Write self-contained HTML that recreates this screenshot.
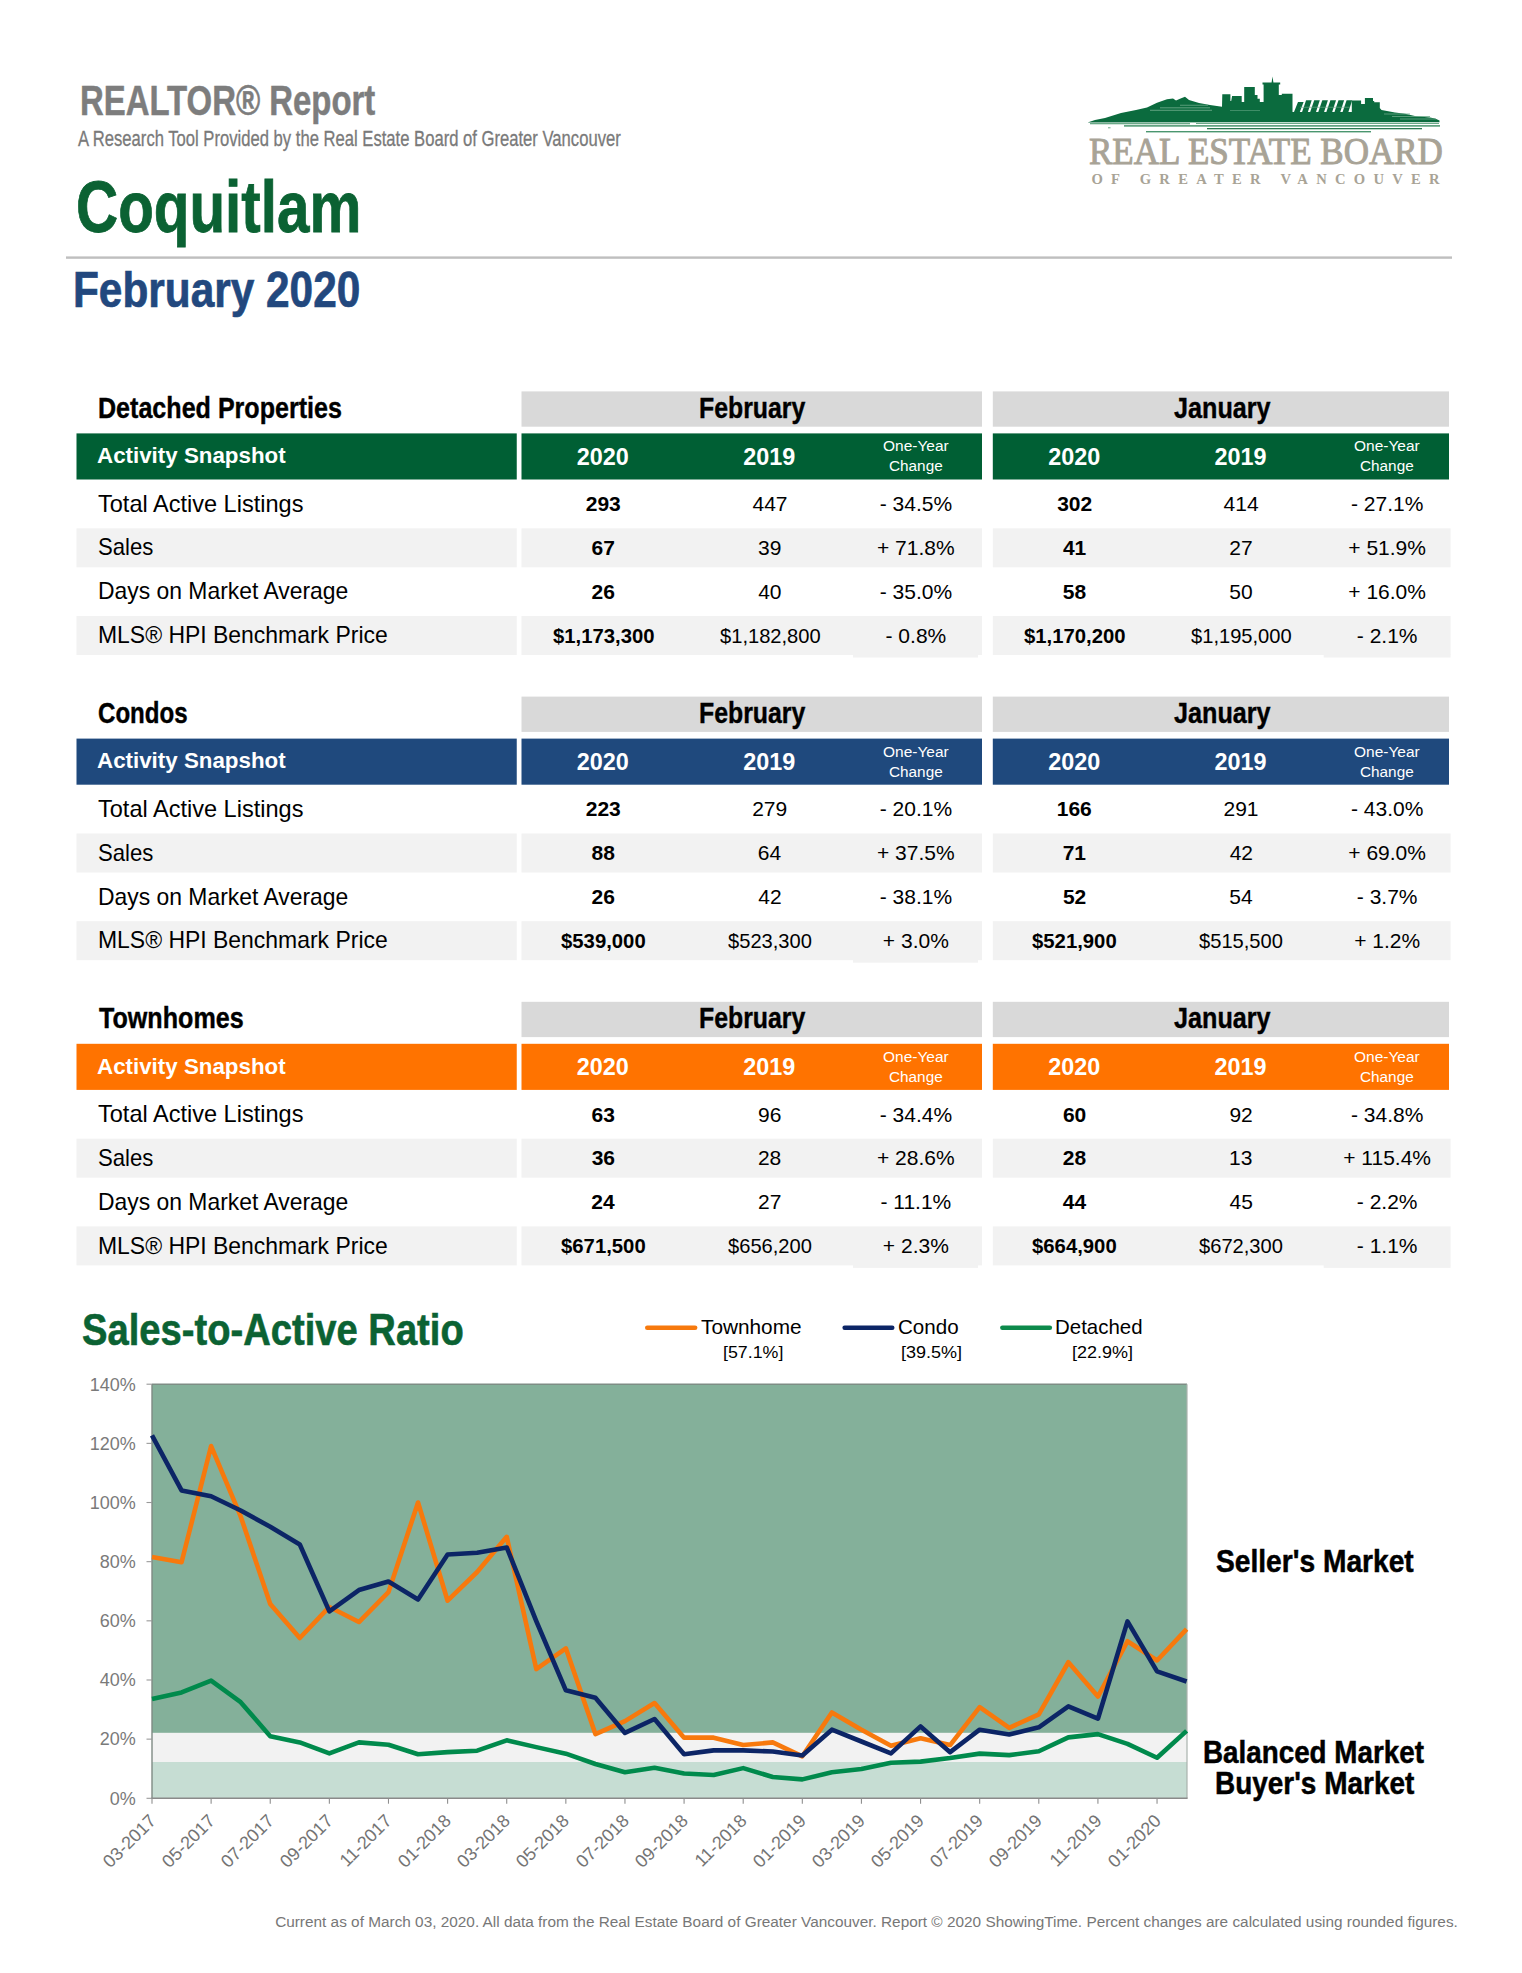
<!DOCTYPE html>
<html><head><meta charset="utf-8"><title>REALTOR Report - Coquitlam February 2020</title>
<style>
html,body{margin:0;padding:0;background:#fff;}
#p{position:relative;width:1522px;height:1973px;overflow:hidden;background:#fff;font-family:"Liberation Sans",Arial,Helvetica,sans-serif;color:#000;}
.t{position:absolute;white-space:nowrap;transform-origin:0 0;}
svg{position:absolute;left:0;top:0;}
</style></head><body><div id="p">
<svg width="1522" height="1973" viewBox="0 0 1522 1973">
<rect x="66.00" y="256.40" width="1386.00" height="2.40" fill="#bfbfbf"/>
<rect x="521.50" y="391.40" width="460.50" height="35.30" fill="#d9d9d9"/>
<rect x="521.50" y="433.40" width="460.50" height="46.10" fill="#005f34"/>
<rect x="992.80" y="391.40" width="456.20" height="35.30" fill="#d9d9d9"/>
<rect x="992.80" y="433.40" width="456.20" height="46.10" fill="#005f34"/>
<rect x="76.50" y="433.40" width="440.25" height="46.10" fill="#005f34"/>
<rect x="76.50" y="528.30" width="440.25" height="39.00" fill="#f2f2f2"/>
<rect x="521.50" y="528.30" width="460.50" height="39.00" fill="#f2f2f2"/>
<rect x="992.80" y="528.30" width="457.80" height="39.00" fill="#f2f2f2"/>
<rect x="76.50" y="616.00" width="440.25" height="39.00" fill="#f2f2f2"/>
<rect x="521.50" y="616.00" width="460.50" height="39.00" fill="#f2f2f2"/>
<rect x="992.80" y="616.00" width="457.80" height="39.00" fill="#f2f2f2"/>
<rect x="853.00" y="654.50" width="125.00" height="3.00" fill="#f2f2f2"/>
<rect x="1323.70" y="654.50" width="126.90" height="3.00" fill="#f2f2f2"/>
<rect x="521.50" y="696.60" width="460.50" height="35.30" fill="#d9d9d9"/>
<rect x="521.50" y="738.60" width="460.50" height="46.10" fill="#1f497d"/>
<rect x="992.80" y="696.60" width="456.20" height="35.30" fill="#d9d9d9"/>
<rect x="992.80" y="738.60" width="456.20" height="46.10" fill="#1f497d"/>
<rect x="76.50" y="738.60" width="440.25" height="46.10" fill="#1f497d"/>
<rect x="76.50" y="833.50" width="440.25" height="39.00" fill="#f2f2f2"/>
<rect x="521.50" y="833.50" width="460.50" height="39.00" fill="#f2f2f2"/>
<rect x="992.80" y="833.50" width="457.80" height="39.00" fill="#f2f2f2"/>
<rect x="76.50" y="921.20" width="440.25" height="39.00" fill="#f2f2f2"/>
<rect x="521.50" y="921.20" width="460.50" height="39.00" fill="#f2f2f2"/>
<rect x="992.80" y="921.20" width="457.80" height="39.00" fill="#f2f2f2"/>
<rect x="853.00" y="959.70" width="125.00" height="3.00" fill="#f2f2f2"/>
<rect x="521.50" y="1001.80" width="460.50" height="35.30" fill="#d9d9d9"/>
<rect x="521.50" y="1043.80" width="460.50" height="46.10" fill="#ff7300"/>
<rect x="992.80" y="1001.80" width="456.20" height="35.30" fill="#d9d9d9"/>
<rect x="992.80" y="1043.80" width="456.20" height="46.10" fill="#ff7300"/>
<rect x="76.50" y="1043.80" width="440.25" height="46.10" fill="#ff7300"/>
<rect x="76.50" y="1138.70" width="440.25" height="39.00" fill="#f2f2f2"/>
<rect x="521.50" y="1138.70" width="460.50" height="39.00" fill="#f2f2f2"/>
<rect x="992.80" y="1138.70" width="457.80" height="39.00" fill="#f2f2f2"/>
<rect x="76.50" y="1226.40" width="440.25" height="39.00" fill="#f2f2f2"/>
<rect x="521.50" y="1226.40" width="460.50" height="39.00" fill="#f2f2f2"/>
<rect x="992.80" y="1226.40" width="457.80" height="39.00" fill="#f2f2f2"/>
<rect x="853.00" y="1264.90" width="125.00" height="3.00" fill="#f2f2f2"/>
<rect x="1323.70" y="1264.90" width="126.90" height="3.00" fill="#f2f2f2"/>
<line x1="647.25" y1="1327.7" x2="695.15" y2="1327.7" stroke="#f7790d" stroke-width="4.5" stroke-linecap="round"/>
<line x1="844.65" y1="1327.7" x2="892.25" y2="1327.7" stroke="#0c2566" stroke-width="4.5" stroke-linecap="round"/>
<line x1="1002.35" y1="1327.7" x2="1049.85" y2="1327.7" stroke="#0d8a4b" stroke-width="4.5" stroke-linecap="round"/>
<rect x="152.00" y="1384.20" width="1035.00" height="348.70" fill="#84b09a"/>
<rect x="152.00" y="1732.90" width="1035.00" height="29.10" fill="#f2f2f2"/>
<rect x="152.00" y="1762.00" width="1035.00" height="36.30" fill="#c6ddd3"/>
<line x1="152.00" y1="1384.20" x2="1187.00" y2="1384.20" stroke="#7e8d85" stroke-width="1.4"/>
<line x1="152.00" y1="1384.20" x2="152.00" y2="1798.30" stroke="#7f8a84" stroke-width="1.4"/>
<line x1="1187.00" y1="1384.20" x2="1187.00" y2="1798.30" stroke="#a9b3ae" stroke-width="1.2"/>
<line x1="151.30" y1="1798.30" x2="1187.60" y2="1798.30" stroke="#8a8a8a" stroke-width="1.4"/>
<line x1="146.5" y1="1798.30" x2="152.0" y2="1798.30" stroke="#999" stroke-width="1.1"/>
<line x1="146.5" y1="1739.14" x2="152.0" y2="1739.14" stroke="#999" stroke-width="1.1"/>
<line x1="146.5" y1="1679.99" x2="152.0" y2="1679.99" stroke="#999" stroke-width="1.1"/>
<line x1="146.5" y1="1620.83" x2="152.0" y2="1620.83" stroke="#999" stroke-width="1.1"/>
<line x1="146.5" y1="1561.67" x2="152.0" y2="1561.67" stroke="#999" stroke-width="1.1"/>
<line x1="146.5" y1="1502.51" x2="152.0" y2="1502.51" stroke="#999" stroke-width="1.1"/>
<line x1="146.5" y1="1443.36" x2="152.0" y2="1443.36" stroke="#999" stroke-width="1.1"/>
<line x1="146.5" y1="1384.20" x2="152.0" y2="1384.20" stroke="#999" stroke-width="1.1"/>
<line x1="152.00" y1="1798.3" x2="152.00" y2="1803.7" stroke="#8f8f8f" stroke-width="1.1"/>
<line x1="211.12" y1="1798.3" x2="211.12" y2="1803.7" stroke="#8f8f8f" stroke-width="1.1"/>
<line x1="270.24" y1="1798.3" x2="270.24" y2="1803.7" stroke="#8f8f8f" stroke-width="1.1"/>
<line x1="329.36" y1="1798.3" x2="329.36" y2="1803.7" stroke="#8f8f8f" stroke-width="1.1"/>
<line x1="388.48" y1="1798.3" x2="388.48" y2="1803.7" stroke="#8f8f8f" stroke-width="1.1"/>
<line x1="447.60" y1="1798.3" x2="447.60" y2="1803.7" stroke="#8f8f8f" stroke-width="1.1"/>
<line x1="506.72" y1="1798.3" x2="506.72" y2="1803.7" stroke="#8f8f8f" stroke-width="1.1"/>
<line x1="565.84" y1="1798.3" x2="565.84" y2="1803.7" stroke="#8f8f8f" stroke-width="1.1"/>
<line x1="624.96" y1="1798.3" x2="624.96" y2="1803.7" stroke="#8f8f8f" stroke-width="1.1"/>
<line x1="684.08" y1="1798.3" x2="684.08" y2="1803.7" stroke="#8f8f8f" stroke-width="1.1"/>
<line x1="743.20" y1="1798.3" x2="743.20" y2="1803.7" stroke="#8f8f8f" stroke-width="1.1"/>
<line x1="802.32" y1="1798.3" x2="802.32" y2="1803.7" stroke="#8f8f8f" stroke-width="1.1"/>
<line x1="861.44" y1="1798.3" x2="861.44" y2="1803.7" stroke="#8f8f8f" stroke-width="1.1"/>
<line x1="920.56" y1="1798.3" x2="920.56" y2="1803.7" stroke="#8f8f8f" stroke-width="1.1"/>
<line x1="979.68" y1="1798.3" x2="979.68" y2="1803.7" stroke="#8f8f8f" stroke-width="1.1"/>
<line x1="1038.80" y1="1798.3" x2="1038.80" y2="1803.7" stroke="#8f8f8f" stroke-width="1.1"/>
<line x1="1097.92" y1="1798.3" x2="1097.92" y2="1803.7" stroke="#8f8f8f" stroke-width="1.1"/>
<line x1="1157.04" y1="1798.3" x2="1157.04" y2="1803.7" stroke="#8f8f8f" stroke-width="1.1"/>
<polyline points="152.00,1698.92 181.56,1692.41 211.12,1680.58 240.68,1702.17 270.24,1736.18 299.80,1742.40 329.36,1753.34 358.92,1742.40 388.48,1744.76 418.04,1754.23 447.60,1752.16 477.16,1750.68 506.72,1740.33 536.28,1747.13 565.84,1753.64 595.40,1763.99 624.96,1772.27 654.52,1767.83 684.08,1773.45 713.64,1774.93 743.20,1768.13 772.76,1777.00 802.32,1779.37 831.88,1772.27 861.44,1769.02 891.00,1762.81 920.56,1761.62 950.12,1758.07 979.68,1753.64 1009.24,1755.12 1038.80,1751.27 1068.36,1737.37 1097.92,1734.11 1127.48,1743.88 1157.04,1757.78 1186.60,1730.86" fill="none" stroke="#008a4c" stroke-width="4.6" stroke-linejoin="round"/>
<polyline points="152.00,1556.94 181.56,1562.26 211.12,1446.02 240.68,1516.42 270.24,1603.97 299.80,1637.98 329.36,1606.93 358.92,1622.01 388.48,1592.14 418.04,1502.51 447.60,1600.72 477.16,1572.02 506.72,1536.83 536.28,1669.04 565.84,1648.34 595.40,1734.11 624.96,1721.10 654.52,1703.06 684.08,1737.66 713.64,1737.66 743.20,1745.06 772.76,1742.40 802.32,1756.30 831.88,1712.52 861.44,1729.68 891.00,1745.65 920.56,1738.26 950.12,1745.06 979.68,1707.20 1009.24,1727.90 1038.80,1714.30 1068.36,1662.24 1097.92,1696.55 1127.48,1641.24 1157.04,1660.46 1186.60,1629.11" fill="none" stroke="#f7790d" stroke-width="4.6" stroke-linejoin="round"/>
<polyline points="152.00,1435.37 181.56,1490.39 211.12,1496.30 240.68,1510.50 270.24,1526.77 299.80,1544.52 329.36,1611.36 358.92,1590.07 388.48,1581.49 418.04,1599.53 447.60,1554.57 477.16,1552.80 506.72,1547.47 536.28,1621.12 565.84,1690.34 595.40,1697.73 624.96,1732.93 654.52,1719.03 684.08,1754.23 713.64,1750.38 743.20,1750.38 772.76,1751.57 802.32,1755.41 831.88,1729.68 861.44,1741.51 891.00,1753.34 920.56,1726.42 950.12,1752.16 979.68,1729.68 1009.24,1734.41 1038.80,1727.31 1068.36,1706.31 1097.92,1718.73 1127.48,1621.42 1157.04,1671.41 1186.60,1681.46" fill="none" stroke="#0c2566" stroke-width="4.6" stroke-linejoin="round"/>
<g id="logo">
<path fill="#0b6b3e" d="M1087.5,122.4 L1095,120 L1105,118.1 L1121,113.1 L1136,110 L1147,107.5 L1157,102.7 L1167,99.3 L1173,98.5 L1176,100.6 L1180,98.7 L1185,96.8 L1189,100 L1199,103.1 L1210,105 L1222,106.8 L1222.3,94.3 L1230.4,94.3 L1230.4,101 L1231.2,101 L1232.1,96 L1241.7,96 L1241.7,102 L1244.2,102 L1244.2,86.9 L1254.8,86.9 L1254.8,95 L1257.5,95 L1257.5,98.7 L1259.8,98.7 L1259.8,102 L1263.6,102 L1263.6,84.6 L1262.5,84.6 L1262.5,82.5 L1271.6,82.5 L1272.5,76.5 L1273.4,82.5 L1280.2,82.5 L1280.2,84.6 L1278.8,84.6 L1278.8,95 L1281.8,95 L1281.8,93.7 L1292.5,93.7 L1292.5,112 L1351.8,112 L1351.8,100.6 L1361.1,100.6 L1361.1,104 L1364.9,104 L1364.9,98.1 L1373,98.1 L1373,101 L1374.2,101 L1374.2,102.2 L1379.8,102.2 L1379.8,108 L1381.5,110 L1395,112.5 L1405,113.7 L1416,116.2 L1430,117.5 L1435,118.5 L1439.5,120.5 L1439.5,122.2 Z"/>
<polygon fill="#0b6b3e" points="1293.8,112.5 1299.6,112.5 1303.6,102 1298.0,102"/>
<polygon fill="#0b6b3e" points="1301.9,112.5 1307.7,112.5 1311.7,100.3 1306.1,100.3"/>
<polygon fill="#0b6b3e" points="1310.0,112.5 1315.8,112.5 1319.8,100.3 1314.2,100.3"/>
<polygon fill="#0b6b3e" points="1318.1,112.5 1323.9,112.5 1327.9,100.3 1322.3,100.3"/>
<polygon fill="#0b6b3e" points="1326.2,112.5 1332.0,112.5 1336.0,100.3 1330.4,100.3"/>
<polygon fill="#0b6b3e" points="1334.3,112.5 1340.1,112.5 1344.1,100.3 1338.5,100.3"/>
<polygon fill="#0b6b3e" points="1342.4,112.5 1348.2,112.5 1352.2,100.3 1346.6,100.3"/>
<g fill="#6aa988">
<rect x="1160" y="107.4" width="50" height="0.9"/>
<rect x="1150" y="109.8" width="62" height="0.9"/>
<rect x="1180" y="104.8" width="28" height="0.8"/>
<rect x="1230" y="110" width="30" height="0.8" opacity="0.7"/>
<rect x="1300" y="106.8" width="50" height="0.8" opacity="0.8"/>
<rect x="1384" y="113.6" width="26" height="0.8"/><rect x="1392" y="116.2" width="38" height="0.8"/><rect x="1400" y="118.6" width="36" height="0.8"/>
<rect x="1090" y="123.0" width="100" height="1.3"/>
<rect x="1196" y="123.0" width="243" height="1.0"/>
</g>
<rect x="1124" y="125.2" width="316" height="1.4" fill="#3d8d64"/>
<rect x="1207" y="128.0" width="215" height="1.3" fill="#2b7a52"/>
<rect x="1146" y="131.0" width="225" height="1.4" fill="#4a966f"/>
<rect x="1108" y="127.3" width="2.5" height="1" fill="#6aa988"/>
</g>

</svg>
<div class="t" style="left:79.96px;top:79.80px;font-size:41.60px;line-height:41.60px;font-weight:bold;color:#7d7d7d;transform:scaleX(0.7908);-webkit-text-stroke:0.5px #7d7d7d;">REALTOR® Report</div>
<div class="t" style="left:77.80px;top:128.90px;font-size:21.40px;line-height:21.40px;color:#7a7a7a;transform:scaleX(0.7772);-webkit-text-stroke:0.3px #7a7a7a;">A Research Tool Provided by the Real Estate Board of Greater Vancouver</div>
<div class="t" style="left:75.57px;top:171.00px;font-size:72.00px;line-height:72.00px;font-weight:bold;color:#0b6233;transform:scaleX(0.8107);-webkit-text-stroke:0.8px #0b6233;">Coquitlam</div>
<div class="t" style="left:73.05px;top:265.00px;font-size:50.40px;line-height:50.40px;font-weight:bold;color:#22487e;transform:scaleX(0.8406);-webkit-text-stroke:0.7px #22487e;">February 2020</div>
<div class="t" style="left:97.77px;top:393.80px;font-size:29.20px;line-height:29.20px;font-weight:bold;transform:scaleX(0.8594);-webkit-text-stroke:0.4px #000;">Detached Properties</div>
<div class="t" style="left:699.49px;top:394.00px;font-size:29.20px;line-height:29.20px;font-weight:bold;transform:scaleX(0.8509);-webkit-text-stroke:0.4px #000;">February</div>
<div class="t" style="left:1173.72px;top:394.00px;font-size:29.20px;line-height:29.20px;font-weight:bold;transform:scaleX(0.8627);-webkit-text-stroke:0.4px #000;">January</div>
<div class="t" style="left:97.44px;top:445.10px;font-size:22.60px;line-height:22.60px;font-weight:bold;color:#fff;transform:scaleX(0.9886);">Activity Snapshot</div>
<div class="t" style="left:576.83px;top:445.50px;font-size:23.40px;line-height:23.40px;font-weight:bold;color:#fff;">2020</div>
<div class="t" style="left:743.17px;top:445.50px;font-size:23.40px;line-height:23.40px;font-weight:bold;color:#fff;">2019</div>
<div class="t" style="left:882.80px;top:438.40px;font-size:15.40px;line-height:15.40px;color:#fff;transform:scaleX(1.0051);">One-Year</div>
<div class="t" style="left:888.93px;top:458.40px;font-size:15.40px;line-height:15.40px;color:#fff;transform:scaleX(0.9955);">Change</div>
<div class="t" style="left:1048.13px;top:445.50px;font-size:23.40px;line-height:23.40px;font-weight:bold;color:#fff;">2020</div>
<div class="t" style="left:1214.47px;top:445.50px;font-size:23.40px;line-height:23.40px;font-weight:bold;color:#fff;">2019</div>
<div class="t" style="left:1354.10px;top:438.40px;font-size:15.40px;line-height:15.40px;color:#fff;transform:scaleX(1.0051);">One-Year</div>
<div class="t" style="left:1360.23px;top:458.40px;font-size:15.40px;line-height:15.40px;color:#fff;transform:scaleX(0.9955);">Change</div>
<div class="t" style="left:97.73px;top:492.60px;font-size:23.20px;line-height:23.20px;transform:scaleX(1.0152);">Total Active Listings</div>
<div class="t" style="left:585.72px;top:493.20px;font-size:21.00px;line-height:21.00px;font-weight:bold;">293</div>
<div class="t" style="left:752.53px;top:493.20px;font-size:21.00px;line-height:21.00px;">447</div>
<div class="t" style="left:879.72px;top:493.20px;font-size:21.00px;line-height:21.00px;">- 34.5%</div>
<div class="t" style="left:1057.17px;top:493.20px;font-size:21.00px;line-height:21.00px;font-weight:bold;">302</div>
<div class="t" style="left:1223.62px;top:493.20px;font-size:21.00px;line-height:21.00px;">414</div>
<div class="t" style="left:1351.02px;top:493.20px;font-size:21.00px;line-height:21.00px;">- 27.1%</div>
<div class="t" style="left:97.80px;top:536.45px;font-size:23.20px;line-height:23.20px;transform:scaleX(0.9547);">Sales</div>
<div class="t" style="left:591.60px;top:537.05px;font-size:21.00px;line-height:21.00px;font-weight:bold;">67</div>
<div class="t" style="left:758.10px;top:537.05px;font-size:21.00px;line-height:21.00px;">39</div>
<div class="t" style="left:876.99px;top:537.05px;font-size:21.00px;line-height:21.00px;">+ 71.8%</div>
<div class="t" style="left:1062.95px;top:537.05px;font-size:21.00px;line-height:21.00px;font-weight:bold;">41</div>
<div class="t" style="left:1229.35px;top:537.05px;font-size:21.00px;line-height:21.00px;">27</div>
<div class="t" style="left:1348.29px;top:537.05px;font-size:21.00px;line-height:21.00px;">+ 51.9%</div>
<div class="t" style="left:97.57px;top:580.30px;font-size:23.20px;line-height:23.20px;transform:scaleX(0.9873);">Days on Market Average</div>
<div class="t" style="left:591.55px;top:580.90px;font-size:21.00px;line-height:21.00px;font-weight:bold;">26</div>
<div class="t" style="left:758.20px;top:580.90px;font-size:21.00px;line-height:21.00px;">40</div>
<div class="t" style="left:879.72px;top:580.90px;font-size:21.00px;line-height:21.00px;">- 35.0%</div>
<div class="t" style="left:1062.84px;top:580.90px;font-size:21.00px;line-height:21.00px;font-weight:bold;">58</div>
<div class="t" style="left:1229.29px;top:580.90px;font-size:21.00px;line-height:21.00px;">50</div>
<div class="t" style="left:1348.29px;top:580.90px;font-size:21.00px;line-height:21.00px;">+ 16.0%</div>
<div class="t" style="left:97.56px;top:624.15px;font-size:23.20px;line-height:23.20px;transform:scaleX(0.9893);">MLS® HPI Benchmark Price</div>
<div class="t" style="left:552.64px;top:624.75px;font-size:21.00px;line-height:21.00px;font-weight:bold;transform:scaleX(0.9670);">$1,173,300</div>
<div class="t" style="left:719.61px;top:624.75px;font-size:21.00px;line-height:21.00px;transform:scaleX(0.9580);">$1,182,800</div>
<div class="t" style="left:885.55px;top:624.75px;font-size:21.00px;line-height:21.00px;">- 0.8%</div>
<div class="t" style="left:1023.94px;top:624.75px;font-size:21.00px;line-height:21.00px;font-weight:bold;transform:scaleX(0.9670);">$1,170,200</div>
<div class="t" style="left:1190.91px;top:624.75px;font-size:21.00px;line-height:21.00px;transform:scaleX(0.9580);">$1,195,000</div>
<div class="t" style="left:1356.85px;top:624.75px;font-size:21.00px;line-height:21.00px;">- 2.1%</div>
<div class="t" style="left:97.94px;top:699.00px;font-size:29.20px;line-height:29.20px;font-weight:bold;transform:scaleX(0.8251);-webkit-text-stroke:0.4px #000;">Condos</div>
<div class="t" style="left:699.49px;top:699.20px;font-size:29.20px;line-height:29.20px;font-weight:bold;transform:scaleX(0.8509);-webkit-text-stroke:0.4px #000;">February</div>
<div class="t" style="left:1173.72px;top:699.20px;font-size:29.20px;line-height:29.20px;font-weight:bold;transform:scaleX(0.8627);-webkit-text-stroke:0.4px #000;">January</div>
<div class="t" style="left:97.44px;top:750.30px;font-size:22.60px;line-height:22.60px;font-weight:bold;color:#fff;transform:scaleX(0.9886);">Activity Snapshot</div>
<div class="t" style="left:576.83px;top:750.70px;font-size:23.40px;line-height:23.40px;font-weight:bold;color:#fff;">2020</div>
<div class="t" style="left:743.17px;top:750.70px;font-size:23.40px;line-height:23.40px;font-weight:bold;color:#fff;">2019</div>
<div class="t" style="left:882.80px;top:743.60px;font-size:15.40px;line-height:15.40px;color:#fff;transform:scaleX(1.0051);">One-Year</div>
<div class="t" style="left:888.93px;top:763.60px;font-size:15.40px;line-height:15.40px;color:#fff;transform:scaleX(0.9955);">Change</div>
<div class="t" style="left:1048.13px;top:750.70px;font-size:23.40px;line-height:23.40px;font-weight:bold;color:#fff;">2020</div>
<div class="t" style="left:1214.47px;top:750.70px;font-size:23.40px;line-height:23.40px;font-weight:bold;color:#fff;">2019</div>
<div class="t" style="left:1354.10px;top:743.60px;font-size:15.40px;line-height:15.40px;color:#fff;transform:scaleX(1.0051);">One-Year</div>
<div class="t" style="left:1360.23px;top:763.60px;font-size:15.40px;line-height:15.40px;color:#fff;transform:scaleX(0.9955);">Change</div>
<div class="t" style="left:97.73px;top:797.80px;font-size:23.20px;line-height:23.20px;transform:scaleX(1.0152);">Total Active Listings</div>
<div class="t" style="left:585.72px;top:798.40px;font-size:21.00px;line-height:21.00px;font-weight:bold;">223</div>
<div class="t" style="left:752.17px;top:798.40px;font-size:21.00px;line-height:21.00px;">279</div>
<div class="t" style="left:879.72px;top:798.40px;font-size:21.00px;line-height:21.00px;">- 20.1%</div>
<div class="t" style="left:1056.76px;top:798.40px;font-size:21.00px;line-height:21.00px;font-weight:bold;">166</div>
<div class="t" style="left:1223.47px;top:798.40px;font-size:21.00px;line-height:21.00px;">291</div>
<div class="t" style="left:1351.02px;top:798.40px;font-size:21.00px;line-height:21.00px;">- 43.0%</div>
<div class="t" style="left:97.80px;top:841.65px;font-size:23.20px;line-height:23.20px;transform:scaleX(0.9547);">Sales</div>
<div class="t" style="left:591.55px;top:842.25px;font-size:21.00px;line-height:21.00px;font-weight:bold;">88</div>
<div class="t" style="left:757.84px;top:842.25px;font-size:21.00px;line-height:21.00px;">64</div>
<div class="t" style="left:876.99px;top:842.25px;font-size:21.00px;line-height:21.00px;">+ 37.5%</div>
<div class="t" style="left:1062.69px;top:842.25px;font-size:21.00px;line-height:21.00px;font-weight:bold;">71</div>
<div class="t" style="left:1229.66px;top:842.25px;font-size:21.00px;line-height:21.00px;">42</div>
<div class="t" style="left:1348.29px;top:842.25px;font-size:21.00px;line-height:21.00px;">+ 69.0%</div>
<div class="t" style="left:97.57px;top:885.50px;font-size:23.20px;line-height:23.20px;transform:scaleX(0.9873);">Days on Market Average</div>
<div class="t" style="left:591.55px;top:886.10px;font-size:21.00px;line-height:21.00px;font-weight:bold;">26</div>
<div class="t" style="left:758.36px;top:886.10px;font-size:21.00px;line-height:21.00px;">42</div>
<div class="t" style="left:879.72px;top:886.10px;font-size:21.00px;line-height:21.00px;">- 38.1%</div>
<div class="t" style="left:1062.95px;top:886.10px;font-size:21.00px;line-height:21.00px;font-weight:bold;">52</div>
<div class="t" style="left:1229.24px;top:886.10px;font-size:21.00px;line-height:21.00px;">54</div>
<div class="t" style="left:1356.85px;top:886.10px;font-size:21.00px;line-height:21.00px;">- 3.7%</div>
<div class="t" style="left:97.56px;top:929.35px;font-size:23.20px;line-height:23.20px;transform:scaleX(0.9893);">MLS® HPI Benchmark Price</div>
<div class="t" style="left:561.11px;top:929.95px;font-size:21.00px;line-height:21.00px;font-weight:bold;transform:scaleX(0.9670);">$539,000</div>
<div class="t" style="left:728.01px;top:929.95px;font-size:21.00px;line-height:21.00px;transform:scaleX(0.9580);">$523,300</div>
<div class="t" style="left:882.87px;top:929.95px;font-size:21.00px;line-height:21.00px;">+ 3.0%</div>
<div class="t" style="left:1032.41px;top:929.95px;font-size:21.00px;line-height:21.00px;font-weight:bold;transform:scaleX(0.9670);">$521,900</div>
<div class="t" style="left:1199.31px;top:929.95px;font-size:21.00px;line-height:21.00px;transform:scaleX(0.9580);">$515,500</div>
<div class="t" style="left:1354.17px;top:929.95px;font-size:21.00px;line-height:21.00px;">+ 1.2%</div>
<div class="t" style="left:98.55px;top:1004.20px;font-size:29.20px;line-height:29.20px;font-weight:bold;transform:scaleX(0.8607);-webkit-text-stroke:0.4px #000;">Townhomes</div>
<div class="t" style="left:699.49px;top:1004.40px;font-size:29.20px;line-height:29.20px;font-weight:bold;transform:scaleX(0.8509);-webkit-text-stroke:0.4px #000;">February</div>
<div class="t" style="left:1173.72px;top:1004.40px;font-size:29.20px;line-height:29.20px;font-weight:bold;transform:scaleX(0.8627);-webkit-text-stroke:0.4px #000;">January</div>
<div class="t" style="left:97.44px;top:1055.50px;font-size:22.60px;line-height:22.60px;font-weight:bold;color:#fff;transform:scaleX(0.9886);">Activity Snapshot</div>
<div class="t" style="left:576.83px;top:1055.90px;font-size:23.40px;line-height:23.40px;font-weight:bold;color:#fff;">2020</div>
<div class="t" style="left:743.17px;top:1055.90px;font-size:23.40px;line-height:23.40px;font-weight:bold;color:#fff;">2019</div>
<div class="t" style="left:882.80px;top:1048.80px;font-size:15.40px;line-height:15.40px;color:#fff;transform:scaleX(1.0051);">One-Year</div>
<div class="t" style="left:888.93px;top:1068.80px;font-size:15.40px;line-height:15.40px;color:#fff;transform:scaleX(0.9955);">Change</div>
<div class="t" style="left:1048.13px;top:1055.90px;font-size:23.40px;line-height:23.40px;font-weight:bold;color:#fff;">2020</div>
<div class="t" style="left:1214.47px;top:1055.90px;font-size:23.40px;line-height:23.40px;font-weight:bold;color:#fff;">2019</div>
<div class="t" style="left:1354.10px;top:1048.80px;font-size:15.40px;line-height:15.40px;color:#fff;transform:scaleX(1.0051);">One-Year</div>
<div class="t" style="left:1360.23px;top:1068.80px;font-size:15.40px;line-height:15.40px;color:#fff;transform:scaleX(0.9955);">Change</div>
<div class="t" style="left:97.73px;top:1103.00px;font-size:23.20px;line-height:23.20px;transform:scaleX(1.0152);">Total Active Listings</div>
<div class="t" style="left:591.55px;top:1103.60px;font-size:21.00px;line-height:21.00px;font-weight:bold;">63</div>
<div class="t" style="left:757.99px;top:1103.60px;font-size:21.00px;line-height:21.00px;">96</div>
<div class="t" style="left:879.72px;top:1103.60px;font-size:21.00px;line-height:21.00px;">- 34.4%</div>
<div class="t" style="left:1062.90px;top:1103.60px;font-size:21.00px;line-height:21.00px;font-weight:bold;">60</div>
<div class="t" style="left:1229.40px;top:1103.60px;font-size:21.00px;line-height:21.00px;">92</div>
<div class="t" style="left:1351.02px;top:1103.60px;font-size:21.00px;line-height:21.00px;">- 34.8%</div>
<div class="t" style="left:97.80px;top:1146.85px;font-size:23.20px;line-height:23.20px;transform:scaleX(0.9547);">Sales</div>
<div class="t" style="left:591.65px;top:1147.45px;font-size:21.00px;line-height:21.00px;font-weight:bold;">36</div>
<div class="t" style="left:757.94px;top:1147.45px;font-size:21.00px;line-height:21.00px;">28</div>
<div class="t" style="left:876.99px;top:1147.45px;font-size:21.00px;line-height:21.00px;">+ 28.6%</div>
<div class="t" style="left:1062.79px;top:1147.45px;font-size:21.00px;line-height:21.00px;font-weight:bold;">28</div>
<div class="t" style="left:1228.98px;top:1147.45px;font-size:21.00px;line-height:21.00px;">13</div>
<div class="t" style="left:1343.25px;top:1147.45px;font-size:21.00px;line-height:21.00px;">+ 115.4%</div>
<div class="t" style="left:97.57px;top:1190.70px;font-size:23.20px;line-height:23.20px;transform:scaleX(0.9873);">Days on Market Average</div>
<div class="t" style="left:591.23px;top:1191.30px;font-size:21.00px;line-height:21.00px;font-weight:bold;">24</div>
<div class="t" style="left:758.05px;top:1191.30px;font-size:21.00px;line-height:21.00px;">27</div>
<div class="t" style="left:880.46px;top:1191.30px;font-size:21.00px;line-height:21.00px;">- 11.1%</div>
<div class="t" style="left:1062.74px;top:1191.30px;font-size:21.00px;line-height:21.00px;font-weight:bold;">44</div>
<div class="t" style="left:1229.55px;top:1191.30px;font-size:21.00px;line-height:21.00px;">45</div>
<div class="t" style="left:1356.85px;top:1191.30px;font-size:21.00px;line-height:21.00px;">- 2.2%</div>
<div class="t" style="left:97.56px;top:1234.55px;font-size:23.20px;line-height:23.20px;transform:scaleX(0.9893);">MLS® HPI Benchmark Price</div>
<div class="t" style="left:561.11px;top:1235.15px;font-size:21.00px;line-height:21.00px;font-weight:bold;transform:scaleX(0.9670);">$671,500</div>
<div class="t" style="left:728.01px;top:1235.15px;font-size:21.00px;line-height:21.00px;transform:scaleX(0.9580);">$656,200</div>
<div class="t" style="left:882.87px;top:1235.15px;font-size:21.00px;line-height:21.00px;">+ 2.3%</div>
<div class="t" style="left:1032.41px;top:1235.15px;font-size:21.00px;line-height:21.00px;font-weight:bold;transform:scaleX(0.9670);">$664,900</div>
<div class="t" style="left:1199.31px;top:1235.15px;font-size:21.00px;line-height:21.00px;transform:scaleX(0.9580);">$672,300</div>
<div class="t" style="left:1356.85px;top:1235.15px;font-size:21.00px;line-height:21.00px;">- 1.1%</div>
<div class="t" style="left:81.75px;top:1307.70px;font-size:44.20px;line-height:44.20px;font-weight:bold;color:#0b6233;transform:scaleX(0.8637);-webkit-text-stroke:0.6px #0b6233;">Sales-to-Active Ratio</div>
<div class="t" style="left:701.08px;top:1316.85px;font-size:20.30px;line-height:20.30px;transform:scaleX(1.0255);">Townhome</div>
<div class="t" style="left:722.75px;top:1344.70px;font-size:16.60px;line-height:16.60px;transform:scaleX(1.0732);">[57.1%]</div>
<div class="t" style="left:898.17px;top:1316.85px;font-size:20.30px;line-height:20.30px;transform:scaleX(1.0146);">Condo</div>
<div class="t" style="left:901.44px;top:1344.70px;font-size:16.60px;line-height:16.60px;transform:scaleX(1.0862);">[39.5%]</div>
<div class="t" style="left:1055.16px;top:1316.85px;font-size:20.30px;line-height:20.30px;transform:scaleX(1.0079);">Detached</div>
<div class="t" style="left:1072.14px;top:1344.70px;font-size:16.60px;line-height:16.60px;transform:scaleX(1.0843);">[22.9%]</div>
<div class="t" style="left:109.82px;top:1789.60px;font-size:18.00px;line-height:18.00px;color:#7a7a7a;">0%</div>
<div class="t" style="left:99.83px;top:1730.44px;font-size:18.00px;line-height:18.00px;color:#7a7a7a;">20%</div>
<div class="t" style="left:99.83px;top:1671.29px;font-size:18.00px;line-height:18.00px;color:#7a7a7a;">40%</div>
<div class="t" style="left:99.83px;top:1612.13px;font-size:18.00px;line-height:18.00px;color:#7a7a7a;">60%</div>
<div class="t" style="left:99.83px;top:1552.97px;font-size:18.00px;line-height:18.00px;color:#7a7a7a;">80%</div>
<div class="t" style="left:89.75px;top:1493.81px;font-size:18.00px;line-height:18.00px;color:#7a7a7a;">100%</div>
<div class="t" style="left:89.75px;top:1434.66px;font-size:18.00px;line-height:18.00px;color:#7a7a7a;">120%</div>
<div class="t" style="left:89.75px;top:1375.50px;font-size:18.00px;line-height:18.00px;color:#7a7a7a;">140%</div>
<div class="t" style="left:90.54px;top:1806.50px;font-size:18.0px;line-height:18.0px;width:66.06px;text-align:right;color:#747474;transform-origin:66.06px 15.00px;transform:rotate(-45deg)">03-2017</div>
<div class="t" style="left:149.66px;top:1806.50px;font-size:18.0px;line-height:18.0px;width:66.06px;text-align:right;color:#747474;transform-origin:66.06px 15.00px;transform:rotate(-45deg)">05-2017</div>
<div class="t" style="left:208.78px;top:1806.50px;font-size:18.0px;line-height:18.0px;width:66.06px;text-align:right;color:#747474;transform-origin:66.06px 15.00px;transform:rotate(-45deg)">07-2017</div>
<div class="t" style="left:267.90px;top:1806.50px;font-size:18.0px;line-height:18.0px;width:66.06px;text-align:right;color:#747474;transform-origin:66.06px 15.00px;transform:rotate(-45deg)">09-2017</div>
<div class="t" style="left:328.35px;top:1806.50px;font-size:18.0px;line-height:18.0px;width:64.73px;text-align:right;color:#747474;transform-origin:64.73px 15.00px;transform:rotate(-45deg)">11-2017</div>
<div class="t" style="left:386.14px;top:1806.50px;font-size:18.0px;line-height:18.0px;width:66.06px;text-align:right;color:#747474;transform-origin:66.06px 15.00px;transform:rotate(-45deg)">01-2018</div>
<div class="t" style="left:445.26px;top:1806.50px;font-size:18.0px;line-height:18.0px;width:66.06px;text-align:right;color:#747474;transform-origin:66.06px 15.00px;transform:rotate(-45deg)">03-2018</div>
<div class="t" style="left:504.38px;top:1806.50px;font-size:18.0px;line-height:18.0px;width:66.06px;text-align:right;color:#747474;transform-origin:66.06px 15.00px;transform:rotate(-45deg)">05-2018</div>
<div class="t" style="left:563.50px;top:1806.50px;font-size:18.0px;line-height:18.0px;width:66.06px;text-align:right;color:#747474;transform-origin:66.06px 15.00px;transform:rotate(-45deg)">07-2018</div>
<div class="t" style="left:622.62px;top:1806.50px;font-size:18.0px;line-height:18.0px;width:66.06px;text-align:right;color:#747474;transform-origin:66.06px 15.00px;transform:rotate(-45deg)">09-2018</div>
<div class="t" style="left:683.07px;top:1806.50px;font-size:18.0px;line-height:18.0px;width:64.73px;text-align:right;color:#747474;transform-origin:64.73px 15.00px;transform:rotate(-45deg)">11-2018</div>
<div class="t" style="left:740.86px;top:1806.50px;font-size:18.0px;line-height:18.0px;width:66.06px;text-align:right;color:#747474;transform-origin:66.06px 15.00px;transform:rotate(-45deg)">01-2019</div>
<div class="t" style="left:799.98px;top:1806.50px;font-size:18.0px;line-height:18.0px;width:66.06px;text-align:right;color:#747474;transform-origin:66.06px 15.00px;transform:rotate(-45deg)">03-2019</div>
<div class="t" style="left:859.10px;top:1806.50px;font-size:18.0px;line-height:18.0px;width:66.06px;text-align:right;color:#747474;transform-origin:66.06px 15.00px;transform:rotate(-45deg)">05-2019</div>
<div class="t" style="left:918.22px;top:1806.50px;font-size:18.0px;line-height:18.0px;width:66.06px;text-align:right;color:#747474;transform-origin:66.06px 15.00px;transform:rotate(-45deg)">07-2019</div>
<div class="t" style="left:977.34px;top:1806.50px;font-size:18.0px;line-height:18.0px;width:66.06px;text-align:right;color:#747474;transform-origin:66.06px 15.00px;transform:rotate(-45deg)">09-2019</div>
<div class="t" style="left:1037.79px;top:1806.50px;font-size:18.0px;line-height:18.0px;width:64.73px;text-align:right;color:#747474;transform-origin:64.73px 15.00px;transform:rotate(-45deg)">11-2019</div>
<div class="t" style="left:1095.58px;top:1806.50px;font-size:18.0px;line-height:18.0px;width:66.06px;text-align:right;color:#747474;transform-origin:66.06px 15.00px;transform:rotate(-45deg)">01-2020</div>
<div class="t" style="left:1215.75px;top:1546.40px;font-size:31.60px;line-height:31.60px;font-weight:bold;transform:scaleX(0.8915);-webkit-text-stroke:0.5px #000;">Seller&#x27;s Market</div>
<div class="t" style="left:1202.69px;top:1737.10px;font-size:31.60px;line-height:31.60px;font-weight:bold;transform:scaleX(0.8798);-webkit-text-stroke:0.5px #000;">Balanced Market</div>
<div class="t" style="left:1215.28px;top:1768.10px;font-size:31.60px;line-height:31.60px;font-weight:bold;transform:scaleX(0.8847);-webkit-text-stroke:0.5px #000;">Buyer&#x27;s Market</div>
<div class="t" style="left:275.13px;top:1914.32px;font-size:15.37px;line-height:15.37px;color:#777;">Current as of March 03, 2020. All data from the Real Estate Board of Greater Vancouver. Report © 2020 ShowingTime. Percent changes are calculated using rounded figures.</div>
<div class="t" style="left:1089.05px;top:131.65px;font-size:38.90px;line-height:38.90px;font-family:'Liberation Serif',serif;color:#a8a396;transform:scaleX(0.9005);-webkit-text-stroke:1.0px #a8a396;">REAL ESTATE BOARD</div>
<div class="t" style="left:1091.47px;top:171.70px;font-size:14.60px;line-height:14.60px;font-weight:bold;font-family:'Liberation Serif',serif;color:#a8a396;letter-spacing:8.28px;">OF GREATER VANCOUVER</div>
</div></body></html>
